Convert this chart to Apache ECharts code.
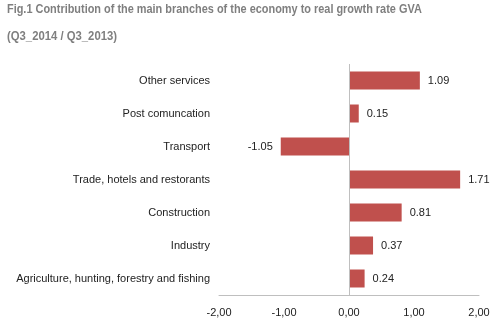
<!DOCTYPE html>
<html><head><meta charset="utf-8">
<script src="https://cdn.jsdelivr.net/npm/echarts@6/dist/echarts.min.js"></script>
<style>html,body{margin:0;padding:0;background:#fff}#c{width:500px;height:325px}</style>
</head><body><div id="c"></div>
<script>
const categories = ['Agriculture, hunting, forestry and fishing','Industry','Construction','Trade, hotels and restorants','Transport','Post comuncation','Other services'];
const values = [0.24, 0.37, 0.81, 1.71, -1.05, 0.15, 1.09];
const xTicks = [-2, -1, 0, 1, 2];
const titleLine1 = 'Fig.1 Contribution of the main branches of the economy to real growth rate GVA';
const titleLine2 = '(Q3_2014 / Q3_2013)';

const chart = echarts.init(document.getElementById('c'), null, {renderer:'canvas'});
const titleStyle = {fontFamily:'Liberation Sans, Arial', fontWeight:'bold', fontSize:13, fill:'#7f7f7f', textVerticalAlign:'middle'};
chart.setOption({
  animation:false,
  backgroundColor:'#fff',
  graphic:[
    {type:'text', left:7, top:3, scaleX:0.84, style:Object.assign({text:titleLine1}, titleStyle)},
    {type:'text', left:7, top:30, scaleX:0.87, style:Object.assign({text:titleLine2}, titleStyle)}
  ],
  grid:{left:219, right:21, top:64, bottom:30, containLabel:false},
  xAxis:{
    type:'value', min:xTicks[0], max:xTicks[xTicks.length-1], interval:1,
    axisLine:{show:true, lineStyle:{color:'#bfbfbf', width:1}},
    axisTick:{show:false},
    splitLine:{show:false},
    axisLabel:{margin:12, fontFamily:'Liberation Sans, Arial', fontSize:11, color:'#222',
      formatter:v=>v.toFixed(2).replace('.',',')}
  },
  yAxis:{
    type:'category', data:categories,
    axisLine:{show:false}, axisTick:{show:false},
    axisLabel:{margin:9, fontFamily:'Liberation Sans, Arial', fontSize:11, color:'#222'}
  },
  series:[{
    type:'bar', barWidth:18,
    data: values.map(v=>({value:v, label:{position: v<0?'left':'right'}})),
    itemStyle:{color:'#c0504d'},
    label:{show:true, distance:8, fontFamily:'Liberation Sans, Arial', fontSize:11, color:'#222',
      formatter:p=>p.value.toFixed(2)},
    markLine:{silent:true, symbol:'none', label:{show:false},
      lineStyle:{color:'#bfbfbf', width:1, type:'solid'},
      data:[{xAxis:0}]}
  }]
});
</script></body></html>
